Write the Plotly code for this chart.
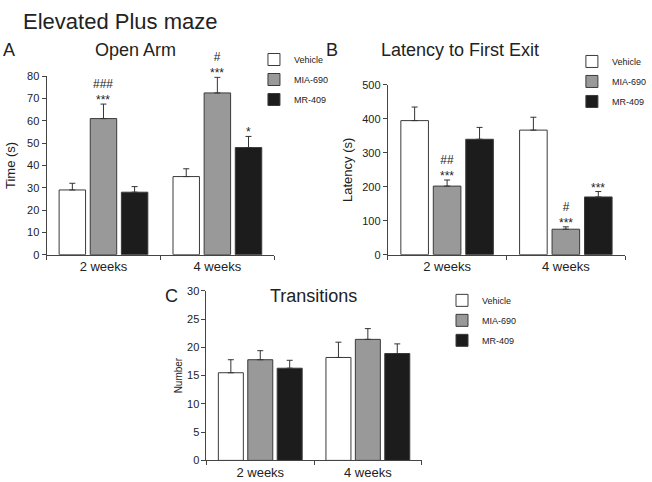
import plotly.graph_objects as go

W, H = 652, 482

groups = ["Vehicle", "MIA-690", "MR-409"]
weeks = ["2 weeks", "4 weeks"]

# Panel A - Open Arm, time (s)
open_arm = {"Vehicle": [29, 35], "MIA-690": [61, 72.5], "MR-409": [28, 48]}
open_arm_err = {"Vehicle": [3, 3.5], "MIA-690": [6.5, 7], "MR-409": [2.5, 5]}
open_arm_sig = {"Vehicle": ["", ""], "MIA-690": ["###<br>***", "#<br>***"], "MR-409": ["", "*"]}

# Panel B - Latency to first exit (s)
latency = {"Vehicle": [395, 367], "MIA-690": [202, 75], "MR-409": [340, 170]}
latency_err = {"Vehicle": [40, 38], "MIA-690": [18, 7], "MR-409": [35, 16]}
latency_sig = {"Vehicle": ["", ""], "MIA-690": ["##<br>***", "#<br>***"], "MR-409": ["", "***"]}

# Panel C - Transitions
transitions = {"Vehicle": [15.5, 18.2], "MIA-690": [17.8, 21.4], "MR-409": [16.3, 18.9]}
transitions_err = {"Vehicle": [2.3, 2.7], "MIA-690": [1.6, 1.9], "MR-409": [1.4, 1.7]}
transitions_sig = {"Vehicle": ["", ""], "MIA-690": ["", ""], "MR-409": ["", ""]}

colors = {"Vehicle": "#ffffff", "MIA-690": "#999999", "MR-409": "#1c1c1c"}
FONT = "Arial, Liberation Sans, sans-serif"
BARGAP = 0.18


def px(x):
    return x / W


def py(y):
    return 1 - y / H


fig = go.Figure()

panels = [
    # values, errors, sig, axis suffix, legend name
    (open_arm, open_arm_err, open_arm_sig, "", "legend"),
    (latency, latency_err, latency_sig, "2", "legend2"),
    (transitions, transitions_err, transitions_sig, "3", "legend3"),
]

annotations = []
slot = (1 - BARGAP) / len(groups)
for vals, errs, sigs, ax, leg in panels:
    for gi, g in enumerate(groups):
        fig.add_trace(go.Bar(
            x=weeks,
            y=vals[g],
            name=g,
            xaxis="x" + ax,
            yaxis="y" + ax,
            legend=leg,
            legendgroup=g + leg,
            marker=dict(color=colors[g], line=dict(color="#3a3a3a", width=1)),
            error_y=dict(type="data", array=errs[g], arrayminus=[0, 0],
                         color="#333333", thickness=1, width=3),
        ))
        offset = (gi - 1) * slot
        for wi in range(len(weeks)):
            if sigs[g][wi]:
                annotations.append(dict(
                    x=wi + offset, y=vals[g][wi] + errs[g][wi],
                    xref="x" + ax, yref="y" + ax,
                    text=sigs[g][wi], showarrow=False,
                    yanchor="bottom", yshift=-5,
                    font=dict(size=12, color="#222222", family=FONT),
                ))

# panel titles and letters
for text, x, y, size, anchor in [
    ("Elevated Plus maze", 22, 16, 22, "left"),
    ("A", 9, 45, 18, "center"),
    ("Open Arm", 140, 45, 18, "center"),
    ("B", 342, 45, 18, "center"),
    ("Latency to First Exit", 475, 45, 18, "center"),
    ("C", 177, 297, 18, "center"),
    ("Transitions", 323, 297, 18, "center"),
]:
    annotations.append(dict(
        x=px(x), y=py(y), xref="paper", yref="paper", text=text,
        showarrow=False, xanchor=anchor, yanchor="middle",
        font=dict(size=size, color="#222222", family=FONT),
    ))

xcommon = dict(type="category", showline=True, linecolor="#444444", linewidth=1,
               ticks="outside", tickson="boundaries", ticklen=4, tickcolor="#444444",
               tickfont=dict(size=13, color="#222222"), showgrid=False, zeroline=False)
ycommon = dict(showline=True, linecolor="#444444", linewidth=1, ticks="outside",
               ticklen=4, tickcolor="#444444", tickfont=dict(size=11, color="#222222"),
               showgrid=False, zeroline=False)

legcommon = dict(font=dict(size=9, color="#222222"), bgcolor="rgba(0,0,0,0)",
                 tracegroupgap=1, itemwidth=30, xanchor="left", yanchor="top")

fig.update_layout(
    width=W, height=H,
    margin=dict(l=0, r=0, t=0, b=0),
    paper_bgcolor="white", plot_bgcolor="white",
    font=dict(family=FONT, color="#222222"),
    barmode="group", bargap=BARGAP, bargroupgap=0.15,
    xaxis=dict(domain=[px(48), px(283)], anchor="y", **xcommon),
    yaxis=dict(domain=[py(255), py(72)], anchor="x", range=[0, 80], dtick=10,
               title=dict(text="Time (s)", font=dict(size=13), standoff=8), **ycommon),
    xaxis2=dict(domain=[px(400), px(645)], anchor="y2", **xcommon),
    yaxis2=dict(domain=[py(255), py(81)], anchor="x2", range=[0, 500], dtick=100,
                title=dict(text="Latency (s)", font=dict(size=13), standoff=6), **ycommon),
    xaxis3=dict(domain=[px(213), px(435)], anchor="y3", **xcommon),
    yaxis3=dict(domain=[py(466), py(292)], anchor="x3", range=[0, 30], dtick=5,
                title=dict(text="Number", font=dict(size=10), standoff=2), **ycommon),
    legend=dict(x=px(262), y=py(40), **legcommon),
    legend2=dict(x=px(590), y=py(42), **legcommon),
    legend3=dict(x=px(456), y=py(287), **legcommon),
    annotations=annotations,
)

fig.write_html("out.html", config={"displayModeBar": False},
               post_script="document.body.style.margin='0';")
